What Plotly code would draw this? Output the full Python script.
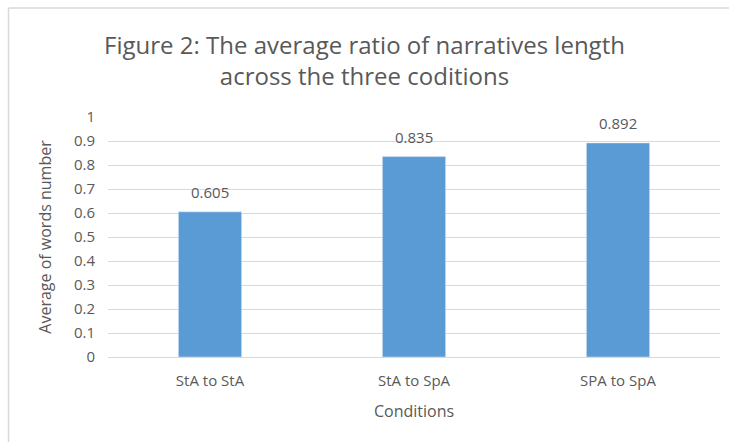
import plotly.graph_objects as go

categories = ["StA to StA", "StA to SpA", "SPA to SpA"]
values = [0.605, 0.835, 0.892]
value_labels = ["0.605", "0.835", "0.892"]
y_ticks = [0, 0.1, 0.2, 0.3, 0.4, 0.5, 0.6, 0.7, 0.8, 0.9, 1]
y_tick_labels = ["0", "0.1", "0.2", "0.3", "0.4", "0.5", "0.6", "0.7", "0.8", "0.9", "1"]

FONT = "Open Sans"
GRAY = "#595959"
GRID = "#d9d9d9"

fig = go.Figure()
fig.add_trace(go.Bar(
    x=categories, y=values, marker_color="#5B9BD5", width=0.31,
    hoverinfo="x+y",
))

for c, v, t in zip(categories, values, value_labels):
    fig.add_annotation(x=c, y=v, text=t, showarrow=False, yanchor="bottom",
                       yshift=8, font=dict(family=FONT, size=15, color=GRAY))

W, H = 729, 442
L, R, T, B = 108, 9, 117, 85
pw = W - L - R
ph = H - T - B

def px_x(x):
    return (x - L) / pw

def px_y(y):
    return (H - B - y) / ph

# chart border (left and top visible)
fig.add_shape(type="line", xref="paper", yref="paper",
              x0=px_x(8.5), x1=px_x(729), y0=px_y(8), y1=px_y(8),
              line=dict(color=GRID, width=1.5))
fig.add_shape(type="line", xref="paper", yref="paper",
              x0=px_x(8.5), x1=px_x(8.5), y0=px_y(8), y1=px_y(442),
              line=dict(color=GRID, width=1.5))

fig.update_layout(
    width=W, height=H,
    margin=dict(l=L, r=R, t=T, b=B),
    paper_bgcolor="white", plot_bgcolor="white",
    showlegend=False,
    title=dict(
        text="Figure 2: The average ratio of narratives length<br>across the three coditions",
        x=0.5, xanchor="center", xref="container",
        y=1 - 54 / H, yanchor="middle", yref="container",
        font=dict(family=FONT, size=24, color=GRAY),
    ),
    font=dict(family=FONT, color=GRAY),
)

fig.update_xaxes(
    showline=True, linecolor=GRID, linewidth=1,
    ticks="", tickfont=dict(family=FONT, size=15, color=GRAY),
    ticklabelstandoff=10,
    title=dict(text="Conditions", font=dict(family=FONT, size=16, color=GRAY), standoff=16),
    showgrid=False,
)
fig.update_yaxes(
    range=[0, 1], tickvals=y_ticks, ticktext=y_tick_labels,
    showgrid=True, gridcolor=GRID, gridwidth=1,
    zeroline=False, showline=False, ticks="",
    tickfont=dict(family=FONT, size=15, color=GRAY),
    ticklabelstandoff=12,
    title=dict(text="Average of words number", font=dict(family=FONT, size=16, color=GRAY), standoff=18),
)

fig.write_html("out.html", config={"displayModeBar": False},
               post_script="document.body.style.margin='0px';")
